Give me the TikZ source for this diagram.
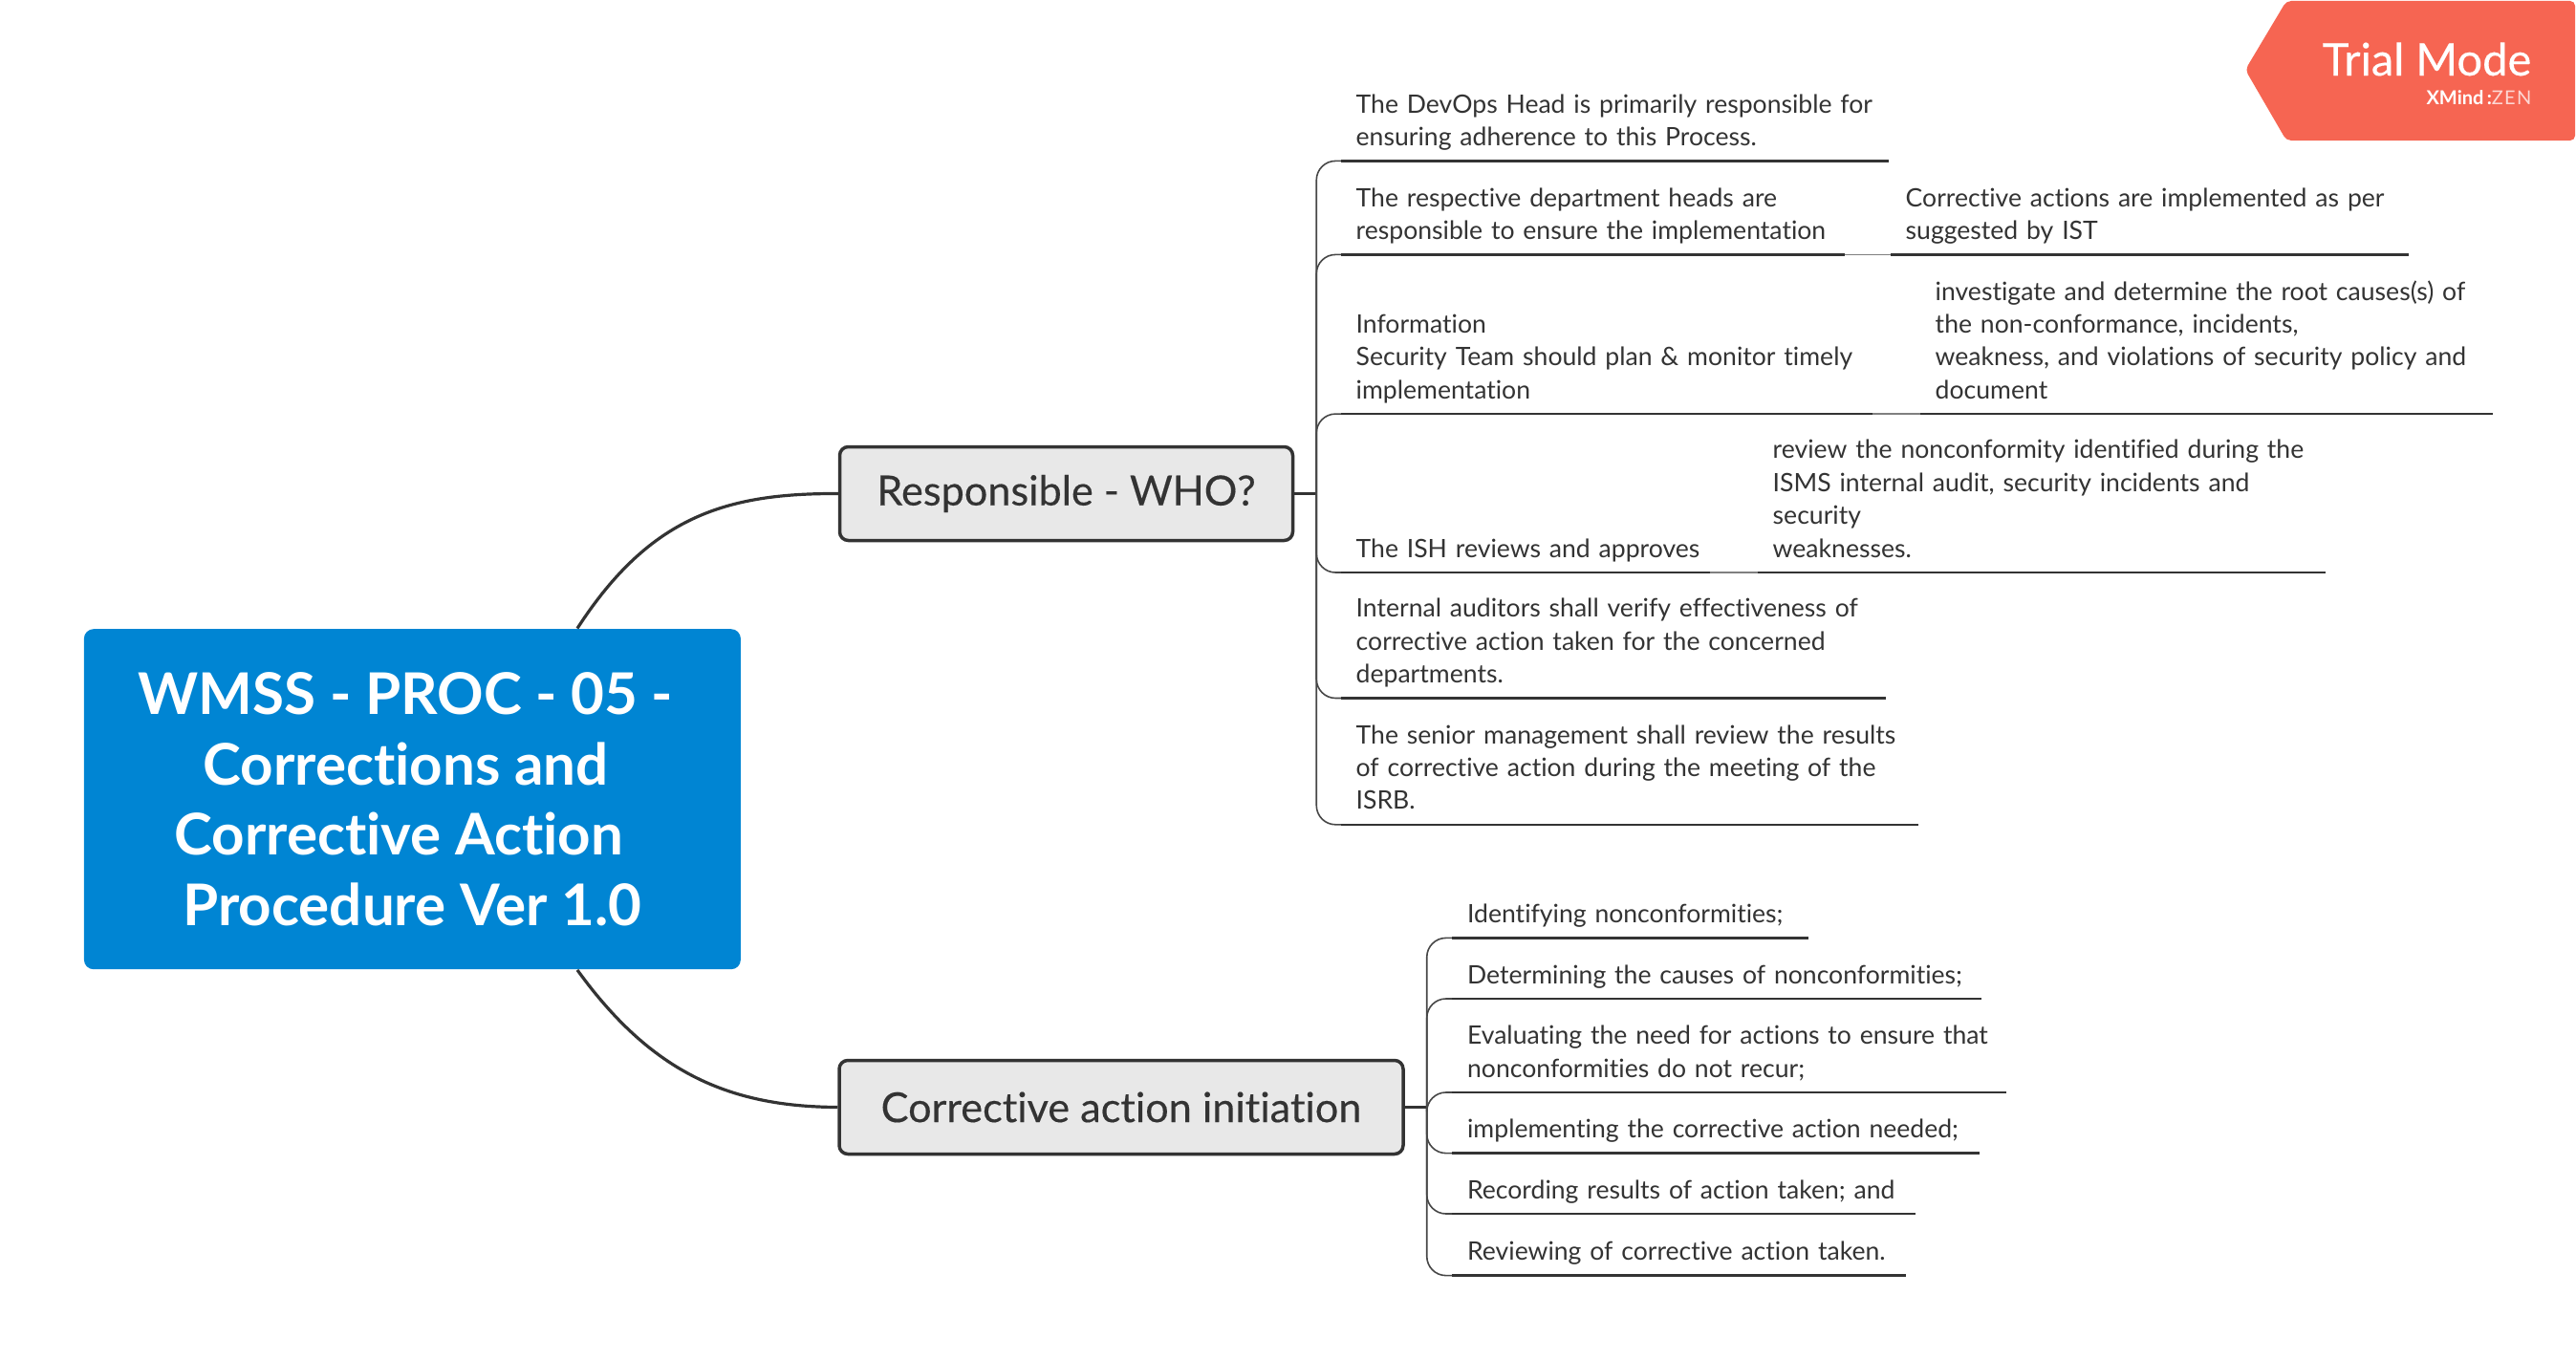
\documentclass[tikz,border=0pt]{standalone}
\usepackage{fontspec}
\setmainfont{Lato}[Ligatures=NoCommon]
\newfontfamily\medfont{Lato}[Ligatures=NoCommon,FakeBold=0.3]
\newfontfamily\lightfont{Lato}[Ligatures=NoCommon,LetterSpace=6]
\definecolor{inkc}{HTML}{333333}
\definecolor{rootc}{HTML}{0085D3}
\definecolor{subc}{HTML}{E8E8E8}
\definecolor{trialc}{HTML}{F66552}
\tikzset{
  leaf/.style={draw=none, anchor=south west, align=left, text=inkc, inner xsep=.15cm, inner ysep=.05cm, text width=#1, font=\fontsize{7.56}{9.77}\selectfont, execute at end node=\strut},
  rootnode/.style={fill=rootc, rounded corners=.1cm, minimum width=6.87cm, minimum height=3.56cm, align=center, text=white, inner sep=0pt, font=\fontsize{17.1}{21}\selectfont\bfseries},
  subnode/.style={fill=subc, draw=inkc, line width=.035cm, rounded corners=.09cm, minimum height=.98cm, inner sep=0pt, text=inkc, font=\fontsize{12.3}{14}\medfont},
  uline/.style={draw=inkc, line width=.026cm},
  branch/.style={draw=inkc!90, line width=.016cm, rounded corners=.2cm},
  joint/.style={draw=gray, line width=.016cm},
  curve/.style={draw=inkc, line width=.032cm}
}
\begin{document}
\begin{tikzpicture}
\useasboundingbox (0,0) rectangle (26.95,-14.23);

% trial badge
\fill[trialc, rounded corners=.05cm] (26.94,-.01) -- (23.92,-.01) -- (23.49,-.73) -- (23.92,-1.47) -- (26.94,-1.47) -- cycle;
\node (trial) [anchor=base east, text=white, inner sep=0pt, font=\fontsize{13.4}{15}\medfont] at (26.49,-.79) {Trial Mode};
\node (xmind) [anchor=base east, text=white, inner sep=0pt, font=\fontsize{5.7}{6}\selectfont] at (26.49,-1.09) {\textbf{XMind\,:}{\lightfont\color{white!75!trialc}ZEN}};

% main topics
\node (root) [rootnode] at (4.314,-8.362) {WMSS - PROC - 05 -\kern.14cm\\Corrections and\kern.14cm\\Corrective Action\kern.28cm\\Procedure Ver 1.0};
\node (resp) [subnode, minimum width=4.74cm] at (11.155,-5.165) {Responsible - WHO?};
\node (corr) [subnode, minimum width=5.90cm] at (11.73,-11.585) {Corrective action initiation};

\draw[curve] (root.46) .. controls (6.8,-5.4) and (7.6,-5.16) .. (resp.west);
\draw[curve] (root.-46) .. controls (6.8,-11.2) and (7.6,-11.58) .. (corr.west);

% first group
\node (t1) [leaf=5.42cm] at (14.03,-1.684) {The DevOps Head is primarily responsible for\\ensuring adherence to this Process.};
\node (t2) [leaf=4.96cm] at (14.03,-2.664) {The respective department heads are\\responsible to ensure the implementation};
\node (s2) [leaf=5.11cm] at (19.78,-2.664) {Corrective actions are implemented as per\\suggested by IST};
\node (t3) [leaf=5.25cm] at (14.03,-4.331) {Information\\Security Team should plan \& monitor timely\\implementation};
\node (s3) [leaf=5.68cm] at (20.09,-4.331) {investigate and determine the root causes(s) of\\the non-conformance, incidents,\\weakness, and violations of security policy and\\document};
\node (t4) [leaf=3.55cm] at (14.03,-5.99) {\mbox{The ISH reviews and approves}};
\node (s4) [leaf=5.63cm] at (18.39,-5.99) {review the nonconformity identified during the\\ISMS internal audit, security incidents and\\security\\weaknesses.};
\node (t5) [leaf=5.39cm] at (14.03,-7.305) {Internal auditors shall verify effectiveness of\\corrective action taken for the concerned\\departments.};
\node (t6) [leaf=5.73cm] at (14.03,-8.628) {The senior management shall review the results\\of corrective action during the meeting of the\\ISRB.};

\coordinate (respbus) at ([xshift=.23cm]resp.east);
\draw[uline] (resp.east) -- (respbus);
\draw[branch] (respbus) |- (t1.south west);
\draw[branch] (respbus) |- (t2.south west);
\draw[branch] (respbus) |- (t3.south west);
\draw[branch] (respbus) |- (t4.south west);
\draw[branch] (respbus) |- (t5.south west);
\draw[branch] (respbus) |- (t6.south west);
\draw[joint] (t2.south east) -- (s2.south west);
\draw[joint] (t3.south east) -- (s3.south west);
\draw[joint] (t4.south east) -- (s4.south west);
\draw[uline] (t1.south west) -- (t1.south east);
\draw[uline] (t2.south west) -- (t2.south east);
\draw[uline] (s2.south west) -- (s2.south east);
\draw[uline] (t3.south west) -- (t3.south east);
\draw[uline] (s3.south west) -- (s3.south east);
\draw[uline] (t4.south west) -- (t4.south east);
\draw[uline] (s4.south west) -- (s4.south east);
\draw[uline] (t5.south west) -- (t5.south east);
\draw[uline] (t6.south west) -- (t6.south east);

% second group
\node (c1) [leaf=3.41cm] at (15.194,-9.814) {Identifying nonconformities;};
\node (c2) [leaf=5.22cm] at (15.194,-10.45) {Determining the causes of nonconformities;};
\node (c3) [leaf=5.48cm] at (15.194,-11.43) {Evaluating the need for actions to ensure that\\nonconformities do not recur;};
\node (c4) [leaf=5.20cm] at (15.194,-12.066) {implementing the corrective action needed;};
\node (c5) [leaf=4.53cm] at (15.194,-12.70) {Recording results of action taken; and};
\node (c6) [leaf=4.43cm] at (15.194,-13.346) {Reviewing of corrective action taken.};

\coordinate (corrbus) at ([xshift=.23cm]corr.east);
\draw[uline] (corr.east) -- (corrbus);
\draw[branch] (corrbus) |- (c1.south west);
\draw[branch] (corrbus) |- (c2.south west);
\draw[branch] (corrbus) |- (c3.south west);
\draw[branch] (corrbus) |- (c4.south west);
\draw[branch] (corrbus) |- (c5.south west);
\draw[branch] (corrbus) |- (c6.south west);
\draw[uline] (c1.south west) -- (c1.south east);
\draw[uline] (c2.south west) -- (c2.south east);
\draw[uline] (c3.south west) -- (c3.south east);
\draw[uline] (c4.south west) -- (c4.south east);
\draw[uline] (c5.south west) -- (c5.south east);
\draw[uline] (c6.south west) -- (c6.south east);
\end{tikzpicture}
\end{document}
